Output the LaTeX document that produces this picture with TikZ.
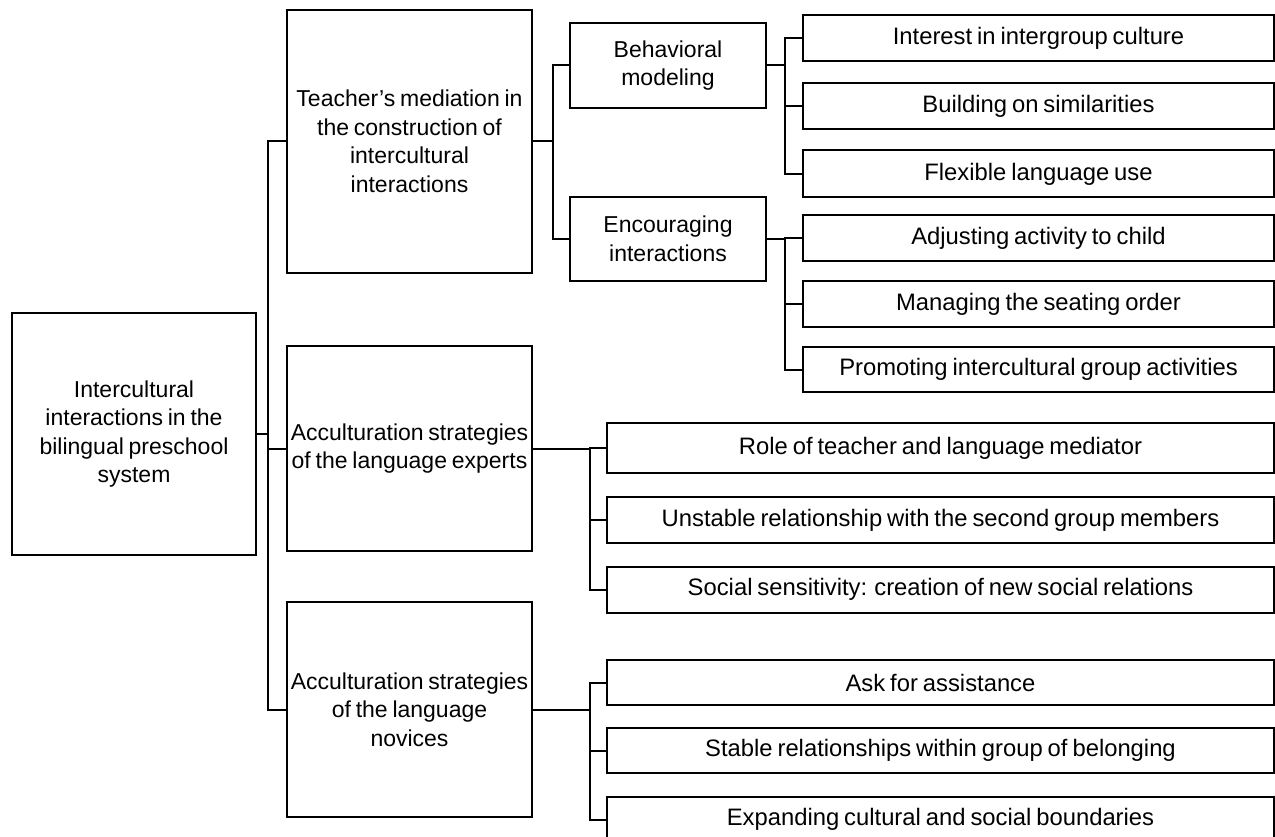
\documentclass[tikz,border=0pt]{standalone}
\usepackage{fontspec}
\setmainfont{Liberation Sans}[WordSpace=0.75]
\begin{document}
\begin{tikzpicture}[x=1pt,y=-1pt,line width=2pt,
  box/.style={draw=black,line width=2pt,align=center,inner sep=0pt,
    font=\fontsize{23}{28.5}\selectfont},
  leaf/.style={box,font=\fontsize{23.8}{28.5}\selectfont},
  conn/.style={draw=black,line width=2pt,line cap=rect}]
\useasboundingbox (0,0) rectangle (1275,837);
\clip (0,0) rectangle (1275,837);
% root
\node[box,minimum width=244pt,minimum height=242pt] (root) at (134,434)
  {Intercultural\\interactions in the\\bilingual preschool\\system};
% level 1
\node[box,minimum width=245pt,minimum height=263pt] (A) at (409.5,141.5)
  {Teacher’s mediation in\\the construction of\\intercultural\\interactions};
\node[box,minimum width=245pt,minimum height=205pt] (B) at (409.5,448.5)
  {Acculturation strategies\\of the language experts};
\node[box,minimum width=245pt,minimum height=215pt] (C) at (409.5,709.5)
  {Acculturation strategies\\of the language\\novices};
% level 2
\node[box,minimum width=196pt,minimum height=85pt] (A1) at (668,65.5)
  {Behavioral\\modeling};
\node[box,minimum width=196pt,minimum height=84pt] (A2) at (668,239)
  {Encouraging\\interactions};
% leaves of A1 / A2
\node[leaf,minimum width=471pt,minimum height=46pt] (L1) at (1038.5,38) {Interest in intergroup culture};
\node[leaf,minimum width=471pt,minimum height=46pt] (L2) at (1038.5,106) {Building on similarities};
\node[leaf,minimum width=471pt,minimum height=47pt] (L3) at (1038.5,174) {Flexible language use};
\node[leaf,minimum width=471pt,minimum height=46pt] (L4) at (1038.5,238) {Adjusting activity to child};
\node[leaf,minimum width=471pt,minimum height=45pt] (L5) at (1038.5,304) {Managing the seating order};
\node[leaf,minimum width=471pt,minimum height=45pt] (L6) at (1038.5,369.5) {Promoting intercultural group activities};
% leaves of B
\node[leaf,minimum width=667pt,minimum height=50pt] (E1) at (940.5,448) {Role of teacher and language mediator};
\node[leaf,minimum width=667pt,minimum height=46pt] (E2) at (940.5,520) {Unstable relationship with the second group members};
\node[leaf,minimum width=667pt,minimum height=46pt] (E3) at (940.5,589.5) {Social sensitivity: creation of new social relations};
% leaves of C
\node[leaf,minimum width=667pt,minimum height=45pt] (N1) at (940.5,682.5) {Ask for assistance};
\node[leaf,minimum width=667pt,minimum height=45pt] (N2) at (940.5,750.5) {Stable relationships within group of belonging};
\node[leaf,minimum width=667pt,minimum height=46pt] (N3) at (940.5,819.5) {Expanding cultural and social boundaries};
% bus coordinates
\coordinate (t0) at (268,0);
\coordinate (t1) at (553,0);
\coordinate (t2) at (785,0);
\coordinate (t3) at (590,0);
% connectors level 0-1
\draw[conn] (root.east) -- (root.east -| t0);
\draw[conn] (A.west) -- (A.west -| t0) |- (C.west);
\draw[conn] (B.west) -- (B.west -| t0);
% A -> A1, A2
\draw[conn] (A.east) -- (A.east -| t1);
\draw[conn] (A1.west) -- (A1.west -| t1) |- (A2.west);
% A1 -> L1..L3
\draw[conn] (A1.east) -- (A1.east -| t2);
\draw[conn] (L1.west) -- (L1.west -| t2) |- (L3.west);
\draw[conn] (L2.west) -- (L2.west -| t2);
% A2 -> L4..L6
\draw[conn] (A2.east) -- (A2.east -| t2);
\draw[conn] (L4.west) -- (L4.west -| t2) |- (L6.west);
\draw[conn] (L5.west) -- (L5.west -| t2);
% B -> E1..E3
\draw[conn] (B.east) -- (B.east -| t3);
\draw[conn] (E1.west) -- (E1.west -| t3) |- (E3.west);
\draw[conn] (E2.west) -- (E2.west -| t3);
% C -> N1..N3
\draw[conn] (C.east) -- (C.east -| t3);
\draw[conn] (N1.west) -- (N1.west -| t3) |- (N3.west);
\draw[conn] (N2.west) -- (N2.west -| t3);
\end{tikzpicture}
\end{document}
